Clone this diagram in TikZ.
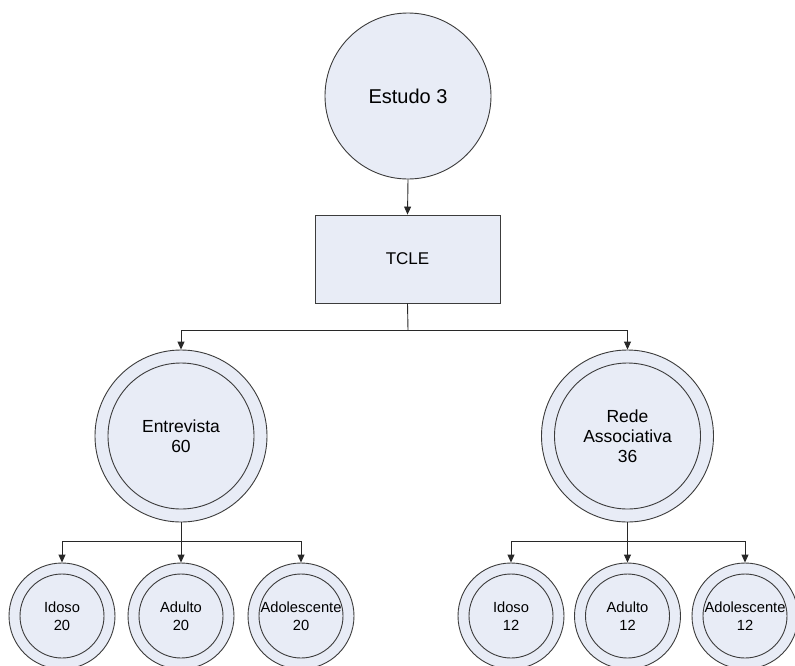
\documentclass[tikz,border=0pt]{standalone}
\usepackage{fontspec}
\setmainfont{Liberation Sans}
\usetikzlibrary{arrows.meta}
\definecolor{boxfill}{RGB}{232,236,246}
\definecolor{edgec}{RGB}{60,60,60}
\definecolor{linec}{RGB}{40,40,40}
\tikzset{
  fillc/.style={fill=boxfill, draw=edgec, line width=0.9pt},
  bigc/.style={circle, fillc, minimum size=166pt, inner sep=0pt, align=center, font=\fontsize{20}{23}\selectfont},
  boxn/.style={rectangle, fillc, minimum width=185pt, minimum height=88pt, inner sep=0pt, align=center, font=\fontsize{17}{20}\selectfont},
  dbl/.style 2 args={circle, fillc, minimum size=#1, inner sep=0pt, align=center,
    path picture={\draw[edgec, line width=0.9pt] (path picture bounding box.center) circle (#2);}},
  midc/.style={dbl={172pt}{73pt}, font=\fontsize{17.5}{20}\selectfont},
  smallc/.style={dbl={106pt}{42pt}, font=\fontsize{14.7}{17.7}\selectfont},
  link/.style={draw=linec, line width=0.9pt},
  arr/.style={link, -{Triangle[length=8pt,width=7pt]}}
}
\begin{document}
\begin{tikzpicture}[x=1pt, y=-1pt]
\clip (0,0) rectangle (795,665);
\useasboundingbox (0,0) rectangle (795,665);
\fill[white] (0,0) rectangle (795,665);

\node[bigc] (est) at (408,96) {Estudo 3};
\node[boxn] (tcle) at (407.5,259) {TCLE};
\coordinate (b1) at (408,330);

\node[midc] (entr) at (181,436) {Entrevista\\60};
\node[midc] (rede) at (627.5,436) {Rede\\Associativa\\36};
\coordinate (b2) at (181,541);
\coordinate (b3) at (627.5,541);

\node[smallc] (s1) at (62,616) {Idoso\\20};
\node[smallc] (s2) at (181,616) {Adulto\\20};
\node[smallc] (s3) at (301,616) {Adolescente\\20};
\node[smallc] (r1) at (511,616) {Idoso\\12};
\node[smallc] (r2) at (627.5,616) {Adulto\\12};
\node[smallc] (r3) at (745,616) {Adolescente\\12};

\draw[arr] (est.south) -- (tcle.north);
\draw[link] (tcle.south) -- (b1);
\draw[arr] (b1) -| (entr.north);
\draw[arr] (b1) -| (rede.north);

\draw[link] (entr.south) -- (b2);
\draw[arr] (b2) -| (s1.north);
\draw[arr] (b2) -- (s2.north);
\draw[arr] (b2) -| (s3.north);

\draw[link] (rede.south) -- (b3);
\draw[arr] (b3) -| (r1.north);
\draw[arr] (b3) -- (r2.north);
\draw[arr] (b3) -| (r3.north);
\end{tikzpicture}
\end{document}
